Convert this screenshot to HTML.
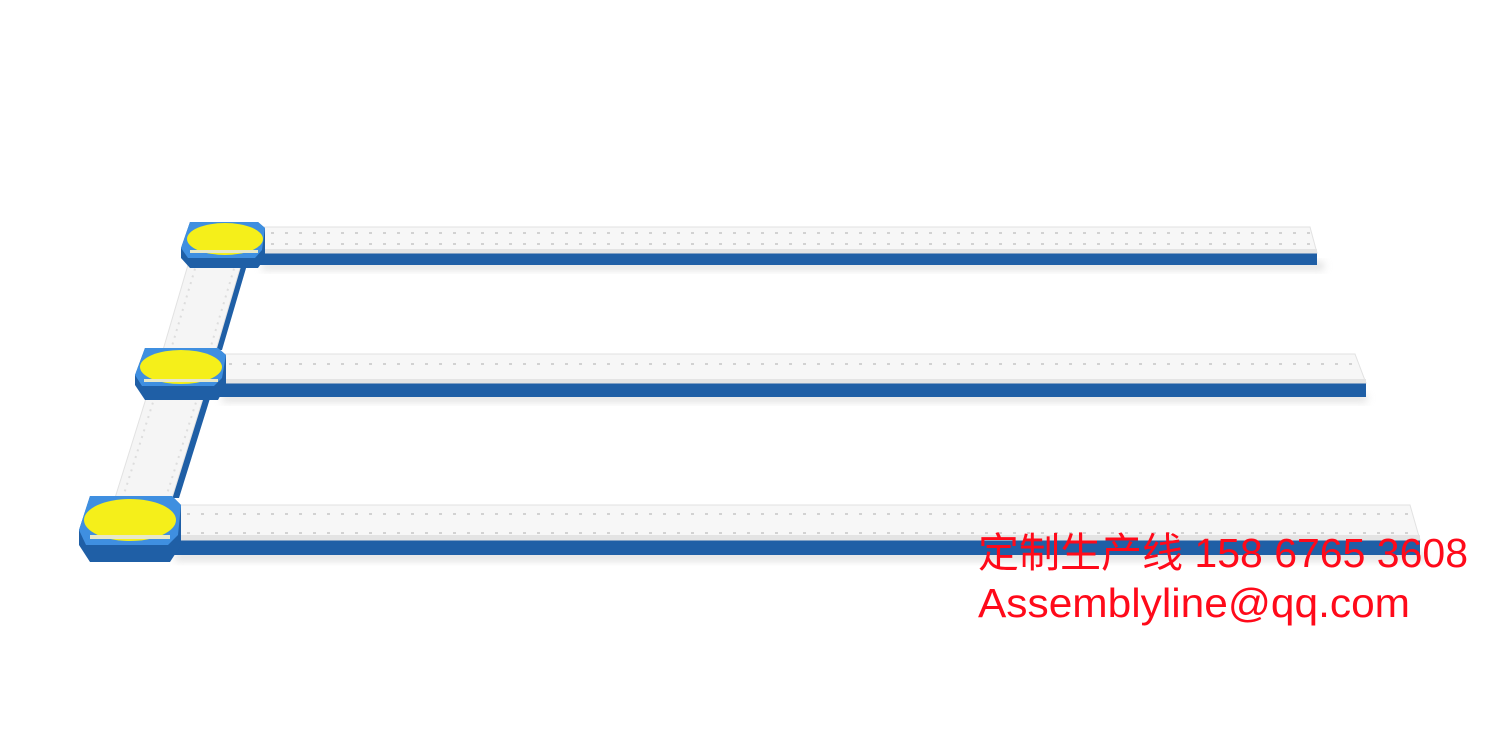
<!DOCTYPE html>
<html><head><meta charset="utf-8"><style>html,body{margin:0;padding:0;background:#fff;}svg{display:block}</style></head>
<body>
<svg width="1500" height="750" viewBox="0 0 1500 750" xmlns="http://www.w3.org/2000/svg">
<defs>
<filter id="sh" x="-5%" y="-50%" width="110%" height="200%"><feGaussianBlur stdDeviation="4"/></filter>
<pattern id="dots" width="14" height="30" patternUnits="userSpaceOnUse"><rect x="5" y="3" width="3" height="2" fill="#d2d2d2"/><rect x="5" y="22" width="3" height="2" fill="#d2d2d2"/></pattern>
</defs>
<rect x="262" y="262" width="1062" height="8" fill="#ccc" filter="url(#sh)" opacity="0.6"/>
<rect x="222" y="394" width="1145" height="8" fill="#ccc" filter="url(#sh)" opacity="0.6"/>
<rect x="175" y="552" width="1250" height="9" fill="#ccc" filter="url(#sh)" opacity="0.6"/>

<polygon points="255,253 1317,253 1317,265 255,265" fill="#1f5fa6"/>
<polygon points="255,227 1310,227 1317,253 255,253" fill="#f7f7f7" stroke="#e2e2e2" stroke-width="1"/>
<rect x="262" y="228" width="1048" height="24" fill="url(#dots)"/>
<rect x="255" y="249" width="1062" height="4" fill="#e4e4e4"/>

<polygon points="215,383 1366,383 1366,397 215,397" fill="#1f5fa6"/>
<polygon points="215,354 1355,354 1366,383 215,383" fill="#f7f7f7" stroke="#e2e2e2" stroke-width="1"/>
<rect x="222" y="355" width="1135" height="27" fill="url(#dots)"/>
<rect x="215" y="379" width="1151" height="4" fill="#e4e4e4"/>

<polygon points="168,540 1420,540 1420,555 168,555" fill="#1f5fa6"/>
<polygon points="168,505 1410,505 1420,540 168,540" fill="#f7f7f7" stroke="#e2e2e2" stroke-width="1"/>
<rect x="175" y="506" width="1235" height="33" fill="url(#dots)"/>
<rect x="168" y="535" width="1252" height="5" fill="#e4e4e4"/>

<polygon points="243,258 249,258 222,350 216,350" fill="#1f5fa6"/>
<polygon points="190,258 243,258 216,350 163,350" fill="#f5f5f5" stroke="#e2e2e2" stroke-width="1"/>
<line x1="197" y1="262" x2="172" y2="346" stroke="#ddd" stroke-width="2" stroke-dasharray="2 5"/>
<line x1="236" y1="262" x2="211" y2="346" stroke="#ddd" stroke-width="2" stroke-dasharray="2 5"/>
<polygon points="205,392 212,392 179,498 172,498" fill="#1f5fa6"/>
<polygon points="148,392 205,392 172,498 115,498" fill="#f5f5f5" stroke="#e2e2e2" stroke-width="1"/>
<line x1="155" y1="396" x2="124" y2="494" stroke="#ddd" stroke-width="2" stroke-dasharray="2 5"/>
<line x1="198" y1="396" x2="167" y2="494" stroke="#ddd" stroke-width="2" stroke-dasharray="2 5"/>

<g>
<polygon points="181,258 181,248 190,222 258,222 265,228 265,258 258,268 190,268" fill="#1f5fa6"/>
<polygon points="181,248 190,222 258,222 265,228 262,250 255,258 188,258" fill="#3f8fe0"/>
<ellipse cx="225" cy="239" rx="38" ry="16" fill="#f5ef1a"/>
<rect x="190" y="250" width="68" height="3" fill="#e8e8c8"/>
</g>
<g>
<polygon points="135,385 135,375 145,348 218,348 226,355 226,385 218,400 145,400" fill="#1f5fa6"/>
<polygon points="135,375 145,348 218,348 226,355 222,378 214,386 142,386" fill="#3f8fe0"/>
<ellipse cx="181" cy="367" rx="41" ry="17" fill="#f5ef1a"/>
<rect x="144" y="379" width="74" height="3" fill="#e8e8c8"/>
</g>
<g>
<polygon points="79,545 79,530 90,496 172,496 181,505 181,545 170,562 90,562" fill="#1f5fa6"/>
<polygon points="79,530 90,496 172,496 181,505 178,535 168,545 86,545" fill="#3f8fe0"/>
<ellipse cx="130" cy="520" rx="46" ry="21" fill="#f5ef1a"/>
<rect x="90" y="535" width="80" height="4" fill="#e8e8c8"/>
</g>

<text x="978" y="567" font-family="'Liberation Sans','Noto Sans CJK SC',sans-serif" font-size="41" fill="#ff0a1a" textLength="490" lengthAdjust="spacingAndGlyphs">定制生产线 158 6765 3608</text>
<text x="978" y="617" font-family="'Liberation Sans',sans-serif" font-size="41" fill="#ff0a1a" textLength="432" lengthAdjust="spacingAndGlyphs">Assemblyline@qq.com</text>
</svg>
</body></html>
